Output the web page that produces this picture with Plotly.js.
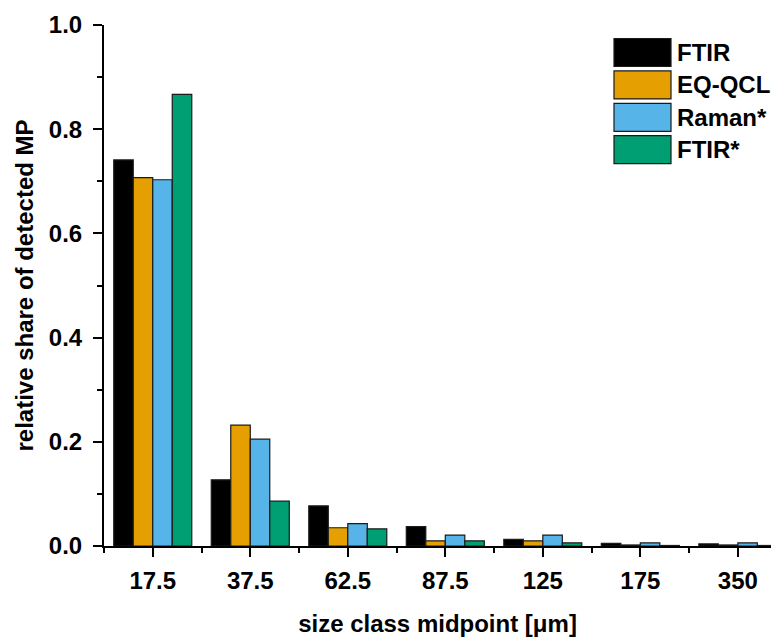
<!DOCTYPE html>
<html>
<head>
<meta charset="utf-8">
<script src="https://cdn.plot.ly/plotly-3.0.1.min.js"></script>
<style>html,body{margin:0;padding:0;background:#fff;}#chart{width:771px;height:637px;}</style>
</head>
<body>
<div id="chart"></div>
<script>
const categories = ["17.5", "37.5", "62.5", "87.5", "125", "175", "350"];
const seriesNames = ["FTIR", "EQ-QCL", "Raman*", "FTIR*"];
const seriesColors = ["#000000", "#E69F00", "#56B4E9", "#009E73"];
const ftir   = [0.741, 0.127, 0.077, 0.037, 0.013, 0.005, 0.004];
const eqqcl  = [0.707, 0.232, 0.035, 0.010, 0.010, 0.002, 0.002];
const raman  = [0.703, 0.205, 0.043, 0.021, 0.021, 0.006, 0.006];
const ftirS  = [0.867, 0.086, 0.033, 0.010, 0.006, 0.001, 0.001];
const seriesValues = [ftir, eqqcl, raman, ftirS];
const yTickVals = [0, 0.2, 0.4, 0.6, 0.8, 1.0];
const yTickText = ["0.0", "0.2", "0.4", "0.6", "0.8", "1.0"];

const FONT = "Liberation Sans, Arial, Helvetica, sans-serif";
const xIdx = categories.map((c, i) => i);

const traces = seriesValues.map((vals, k) => ({
  type: "bar",
  name: seriesNames[k],
  x: xIdx,
  y: vals,
  marker: { color: seriesColors[k], line: { color: "#1a1a1a", width: 1.2 } },
  showlegend: false,
  hoverinfo: "skip"
}));

// plot-area geometry (pixels) for legend placement
const W = 771, H = 637, mL = 104, mR = 0, mT = 25, mB = 91;
const pw = W - mL - mR, ph = H - mT - mB;
const px2x = p => (p - mL) / pw;
const py2y = p => (H - mB - p) / ph;

const shapes = [], annotations = [];
seriesNames.forEach((name, k) => {
  const cy = 52.5 + k * 32.4;
  shapes.push({
    type: "rect", xref: "paper", yref: "paper",
    x0: px2x(614), x1: px2x(671), y0: py2y(cy + 14), y1: py2y(cy - 14),
    fillcolor: seriesColors[k], line: { color: "#1a1a1a", width: 1.2 }
  });
  annotations.push({
    xref: "paper", yref: "paper", x: px2x(675), y: py2y(cy),
    xanchor: "left", yanchor: "middle", showarrow: false,
    text: "<b>" + name + "</b>", font: { family: FONT, size: 24, color: "#000" }
  });
});

const layout = {
  width: W, height: H,
  margin: { l: mL, r: mR, t: mT, b: mB, pad: 0 },
  paper_bgcolor: "#fff", plot_bgcolor: "#fff",
  font: { family: FONT, size: 24, color: "#000" },
  barmode: "group", bargap: 0.2, bargroupgap: 0,
  showlegend: false,
  xaxis: {
    type: "linear", range: [-0.5, 6.34], fixedrange: true,
    tickmode: "array", tickvals: xIdx, ticktext: categories.map(c => "<b>" + c + "</b>"),
    ticks: "outside", ticklen: 9, tickwidth: 2, tickcolor: "#000",
    ticklabelstandoff: 3,
    minor: { tick0: 0.5, dtick: 1, ticks: "outside", ticklen: 5, tickwidth: 2, tickcolor: "#000" },
    showline: true, linecolor: "#000", linewidth: 2,
    showgrid: false, zeroline: false,
    tickfont: { family: FONT, size: 24, color: "#000" },
    title: { text: "<b>size class midpoint [μm]</b>", font: { family: FONT, size: 24, color: "#000" }, standoff: 22 },
    automargin: false
  },
  yaxis: {
    range: [0, 1.0], fixedrange: true,
    tickmode: "array", tickvals: yTickVals, ticktext: yTickText.map(t => "<b>" + t + "</b>"),
    ticks: "outside", ticklen: 9, tickwidth: 2, tickcolor: "#000",
    ticklabelstandoff: 6,
    minor: { tick0: 0.1, dtick: 0.2, ticks: "outside", ticklen: 5, tickwidth: 2, tickcolor: "#000" },
    showline: true, linecolor: "#000", linewidth: 2,
    showgrid: false, zeroline: false,
    tickfont: { family: FONT, size: 24, color: "#000" },
    title: { text: "<b>relative share of detected MP</b>", font: { family: FONT, size: 24, color: "#000" }, standoff: 8 },
    automargin: false
  },
  shapes: shapes,
  annotations: annotations
};

Plotly.newPlot("chart", traces, layout, { staticPlot: true, displayModeBar: false });
</script>
</body>
</html>
